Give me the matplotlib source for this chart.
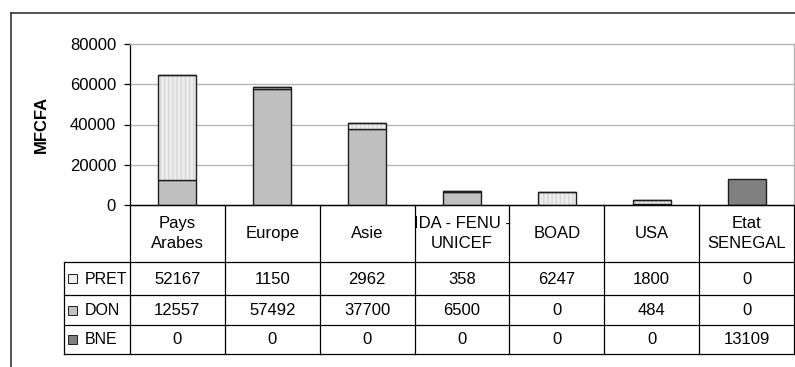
#!/usr/bin/env python3
"""
financement.py — Stacked bars of funding by source (MFCFA) with the data table underneath.
Output: out.png
"""
import numpy as np
import matplotlib.pyplot as plt
from matplotlib.patches import Rectangle

# --- data -------------------------------------------------------------
sources = ["Pays\nArabes", "Europe", "Asie", "IDA - FENU -\nUNICEF",
           "BOAD", "USA", "Etat\nSENEGAL"]
series_names = ["PRET", "DON", "BNE"]
pret = [52167, 1150, 2962, 358, 6247, 1800, 0]
don = [12557, 57492, 37700, 6500, 0, 484, 0]
bne = [0, 0, 0, 0, 0, 0, 13109]
y_ticks = [0, 20000, 40000, 60000, 80000]

# --- styles -----------------------------------------------------------
FILL = {"PRET": "#EDEDED", "DON": "#C0C0C0", "BNE": "#808080"}
EDGE = "#1E1E1E"
GRID = "#B4B4B4"
FONT = "Liberation Sans"
FS = 12

W, H, DPI = 795, 367, 100


def px_box(left, top, right, bottom):
    """Pixel box (origin top-left) -> figure fraction [l, b, w, h]."""
    return [left / W, 1 - bottom / H, (right - left) / W, (bottom - top) / H]


def draw_bars(ax, x):
    width = 0.4
    don_a, pret_a, bne_a = np.array(don), np.array(pret), np.array(bne)
    ax.bar(x, don_a, width, color=FILL["DON"], edgecolor=EDGE, lw=1.0, zorder=3)
    # PRET: light fill with faint vertical stripes, then the outline on top
    ax.bar(x, pret_a, width, bottom=don_a, color=FILL["PRET"], edgecolor="#D6D6D6",
           hatch="||||", lw=0, zorder=3)
    ax.bar(x, pret_a, width, bottom=don_a, fill=False, edgecolor=EDGE, lw=1.0, zorder=4)
    ax.bar(x, bne_a, width, bottom=don_a + pret_a, color=FILL["BNE"],
           edgecolor=EDGE, lw=1.0, zorder=3)


def draw_table(tab, n, legend_w):
    """Data table drawn with plain lines; x in category units, y in pixels downwards."""
    rows = [0, 57, 90, 120, 149]
    x_left, x_right = -0.5 - legend_w, n - 0.5
    tab.set_xlim(x_left, x_right)
    tab.set_ylim(rows[-1], 0)
    tab.axis("off")
    kw = dict(color="black", lw=0.9, clip_on=False, solid_capstyle="projecting")

    tab.plot([-0.5, x_right], [0, 0], **kw)
    for r in rows[1:]:
        tab.plot([x_left, x_right], [r, r], **kw)
    for k in range(n + 1):
        tab.plot([k - 0.5, k - 0.5], [0, rows[-1]], **kw)
    tab.plot([x_left, x_left], [rows[1], rows[-1]], **kw)

    for i, name in enumerate(sources):
        tab.text(i, rows[1] / 2, name, ha="center", va="center", fontsize=FS,
                 family=FONT, linespacing=1.35)

    values = [pret, don, bne]
    for j, (label, vals) in enumerate(zip(series_names, values)):
        yc = (rows[j + 1] + rows[j + 2]) / 2
        for i, v in enumerate(vals):
            tab.text(i, yc + 0.5, f"{v}", ha="center", va="center", fontsize=FS, family=FONT)
        # legend key + series name in the left column
        sq = 9 / 94.86
        tab.add_patch(Rectangle((x_left + 4 / 94.86, yc - 4.5), sq, 9,
                                facecolor=FILL[label], edgecolor=EDGE, lw=0.7))
        tab.text(x_left + 21 / 94.86, yc + 0.5, label, ha="left", va="center",
                 fontsize=FS - 0.5, family=FONT)


def main():
    fig = plt.figure(figsize=(W / DPI, H / DPI), dpi=DPI)
    n = len(sources)
    x = np.arange(n)

    # outer frame of the chart object (left and top edges)
    fig.add_artist(plt.Line2D([11 / W, 11 / W], [0, 1 - 13 / H], color="#333333",
                              lw=1.2, transform=fig.transFigure))
    fig.add_artist(plt.Line2D([11 / W, 1], [1 - 13 / H, 1 - 13 / H], color="#333333",
                              lw=1.2, transform=fig.transFigure))

    ax = fig.add_axes(px_box(130, 44, 794, 205))
    draw_bars(ax, x)
    ax.set_xlim(-0.5, n - 0.5)
    ax.set_ylim(y_ticks[0], y_ticks[-1])
    ax.set_yticks(y_ticks)
    ax.set_yticklabels([str(t) for t in y_ticks], fontsize=FS, family=FONT)
    ax.set_xticks([])
    ax.tick_params(axis="y", length=4, width=0.9, pad=6, color="black")
    for t in y_ticks[1:-1]:
        ax.axhline(t, color=GRID, lw=1.0, zorder=1)
    for side in ("top", "right"):
        ax.spines[side].set_color(GRID)
        ax.spines[side].set_linewidth(1.0)
    for side in ("left", "bottom"):
        ax.spines[side].set_color("black")
        ax.spines[side].set_linewidth(0.9)
    ax.set_ylabel("MFCFA", fontsize=FS, family=FONT, fontweight="bold", labelpad=15)

    legend_w = (130 - 64) / ((794 - 130) / n)
    tab = fig.add_axes(px_box(64, 205, 794, 354))
    draw_table(tab, n, legend_w)

    fig.savefig("out.png", dpi=DPI)


if __name__ == "__main__":
    main()
